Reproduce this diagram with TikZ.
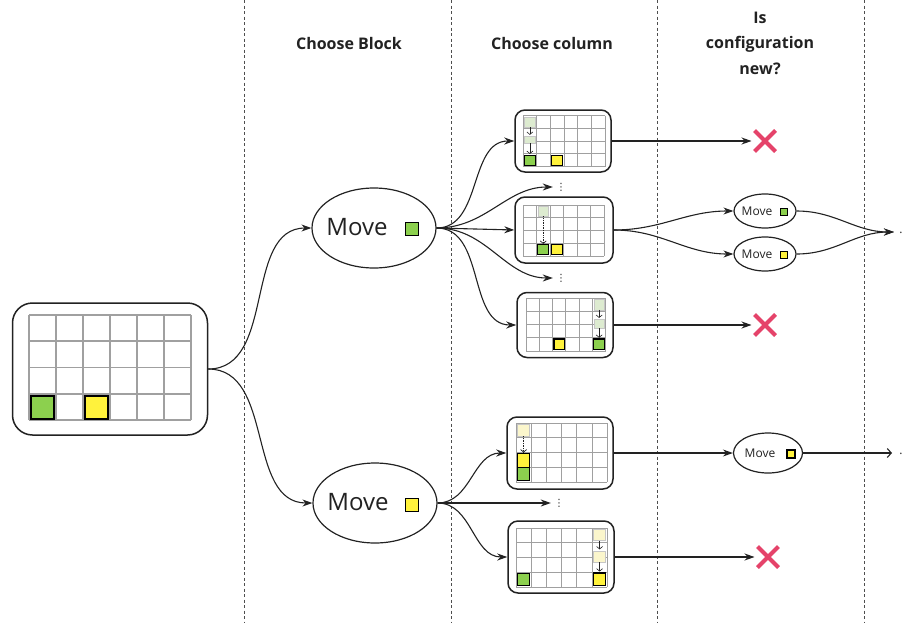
\documentclass[tikz,border=0pt]{standalone}
\usepackage{fontspec}
\setmainfont{Open Sans}
\newfontfamily\dejavu{DejaVu Sans}
\usetikzlibrary{arrows.meta,shapes.geometric,shapes.misc}
\definecolor{gblk}{HTML}{8CD04E}
\definecolor{yblk}{HTML}{FFF23C}
\definecolor{gghost}{HTML}{DDEBD0}
\definecolor{yghost}{HTML}{FBF6CC}
\definecolor{xred}{HTML}{E5436A}
\definecolor{gridc}{HTML}{A0A0A0}
\definecolor{ink}{HTML}{222222}
\tikzset{
  conn/.style={draw=ink, line width=1.1pt, -{Stealth[length=10pt,width=7pt]}},
  openconn/.style={draw=ink, line width=1.1pt, -{Straight Barb[length=4pt,width=9pt]}},
  board/.style={draw=ink, line width=1.5pt, rounded corners=10pt, fill=white, inner sep=0pt},
  gline/.style={draw=gridc, line width=1pt},
  gblock/.style={fill=gblk, draw=black, line width=1.2pt},
  yblock/.style={fill=yblk, draw=black, line width=1.2pt},
  gghostb/.style={fill=gghost, draw=gridc!60, line width=0.6pt},
  yghostb/.style={fill=yghost, draw=gridc!60, line width=0.6pt},
  fallsolid/.style={draw=ink, line width=0.6pt, -{Straight Barb[length=2.5pt,width=6pt]}},
  falldot/.style={draw=ink, line width=0.7pt, densely dotted, -{Straight Barb[length=2.5pt,width=6pt]}},
  bigell/.style={draw=ink, ellipse, line width=1.2pt, fill=white, minimum width=124pt, minimum height=80pt, inner sep=0pt},
  smallell/.style={draw=ink, ellipse, line width=1.2pt, fill=white, inner sep=0pt},
  bigtxt/.style={font=\fontsize{24}{28}\selectfont, text=ink, inner sep=0pt},
  smalltxt/.style={font=\fontsize{12}{14}\selectfont, text=ink, inner sep=0pt},
  sqn/.style={draw=black, line width=1.3pt, inner sep=0pt},
  xmark/.style={cross out, draw=xred, line width=4pt, minimum size=17pt, inner sep=0pt},
  divider/.style={draw=ink!80, line width=0.7pt, dash pattern=on 3pt off 2.5pt},
  header/.style={font=\bfseries\fontsize{16}{25.5}\selectfont, text=ink, align=center, inner sep=0pt},
  dotsn/.style={font=\dejavu\fontsize{10}{12}\selectfont, inner sep=0pt, text=ink},
}
\begin{document}
\begin{tikzpicture}[x=1pt,y=-1pt]
\useasboundingbox (0,0) rectangle (905,622);

% dividers
\foreach \xx in {244,451,657,864} \draw[divider] (\xx,0) -- (\xx,622);

% headers
\node[header] (h1) at (349,43) {Choose Block};
\node[header] (h2) at (552,43) {Choose column};
\node[header] (h3) at (760,43) {Is\\configuration\\new?};

% big board
\node[board, rounded corners=20pt, minimum width=195pt, minimum height=132pt] (bb) at (110,369) {};
\begin{scope}[shift={(29,315)}, x=26.95pt, y=-26.25pt]
  \foreach \i in {0,...,6} \draw[gline, line width=1.6pt] (\i,0) -- (\i,4);
  \foreach \j in {0,...,4} \draw[gline, line width=1.6pt] (0,\j) -- (6,\j);
  \draw[gblock, line width=2pt] (0.08,3.08) rectangle (0.92,3.95);
  \draw[yblock, line width=2pt] (2.08,3.08) rectangle (2.92,3.95);
\end{scope}

% board b1
\node[board, minimum width=96pt, minimum height=62pt] (b1) at (563,141) {};
\begin{scope}[shift={(523,115.7)}, x=13.7pt, y=-12.75pt]
  \foreach \i in {0,...,6} \draw[gline] (\i,0) -- (\i,4);
  \foreach \j in {0,...,4} \draw[gline] (0,\j) -- (6,\j);
  \draw[gghostb] (0.1,0.1) rectangle (0.9,0.9);
  \draw[fallsolid] (0.5,0.9) -- (0.5,1.5);
  \draw[gghostb] (0.1,1.6) rectangle (0.9,2.15);
  \draw[fallsolid] (0.5,2.15) -- (0.5,3.0);
  \draw[gblock] (0.1,3.1) rectangle (0.9,3.9);
  \draw[yblock] (2.1,3.1) rectangle (2.9,3.9);
\end{scope}

% board b2
\node[board, minimum width=98pt, minimum height=66pt] (b2) at (564,230) {};
\begin{scope}[shift={(523,205)}, x=13.5pt, y=-12.75pt]
  \foreach \i in {0,...,6} \draw[gline] (\i,0) -- (\i,4);
  \foreach \j in {0,...,4} \draw[gline] (0,\j) -- (6,\j);
  \draw[gghostb] (1.1,0.1) rectangle (1.9,0.9);
  \draw[falldot] (1.5,0.9) -- (1.5,3.05);
  \draw[gblock] (1.1,3.1) rectangle (1.9,3.9);
  \draw[yblock] (2.1,3.1) rectangle (2.9,3.9);
\end{scope}

% board b3
\node[board, minimum width=96pt, minimum height=65pt] (b3) at (565,325) {};
\begin{scope}[shift={(526,298)}, x=13.3pt, y=-13.25pt]
  \foreach \i in {0,...,6} \draw[gline] (\i,0) -- (\i,4);
  \foreach \j in {0,...,4} \draw[gline] (0,\j) -- (6,\j);
  \draw[gghostb] (5.1,0.1) rectangle (5.9,0.9);
  \draw[fallsolid] (5.5,0.9) -- (5.5,1.5);
  \draw[gghostb] (5.1,1.6) rectangle (5.9,2.3);
  \draw[fallsolid] (5.5,2.3) -- (5.5,3.0);
  \draw[gblock] (5.1,3.1) rectangle (5.9,3.9);
  \draw[yblock] (2.1,3.1) rectangle (2.9,3.9);
\end{scope}

% board b4
\node[board, minimum width=106pt, minimum height=72pt] (b4) at (560,453) {};
\begin{scope}[shift={(516,423)}, x=15.2pt, y=-14.75pt]
  \foreach \i in {0,...,6} \draw[gline] (\i,0) -- (\i,4);
  \foreach \j in {0,...,4} \draw[gline] (0,\j) -- (6,\j);
  \draw[yghostb] (0.1,0.1) rectangle (0.9,0.9);
  \draw[falldot] (0.5,0.9) -- (0.5,2.0);
  \draw[yblock] (0.1,2.05) rectangle (0.9,3.0);
  \draw[gblock] (0.1,3.0) rectangle (0.9,3.92);
\end{scope}

% board b5
\node[board, minimum width=106pt, minimum height=72pt] (b5) at (561,557) {};
\begin{scope}[shift={(516,528)}, x=15.2pt, y=-14.75pt]
  \foreach \i in {0,...,6} \draw[gline] (\i,0) -- (\i,4);
  \foreach \j in {0,...,4} \draw[gline] (0,\j) -- (6,\j);
  \draw[yghostb] (5.1,0.1) rectangle (5.9,0.85);
  \draw[fallsolid] (5.5,0.85) -- (5.5,1.45);
  \draw[yghostb] (5.1,1.6) rectangle (5.9,2.3);
  \draw[fallsolid] (5.5,2.3) -- (5.5,2.95);
  \draw[gblock] (0.1,3.1) rectangle (0.9,3.9);
  \draw[yblock] (5.1,3.05) rectangle (5.9,3.9);
\end{scope}

% big ellipses
\node[bigell] (m1) at (374,228) {};
\node[bigtxt] (m1t) at (357,227) {Move};
\node[sqn, fill=gblk, minimum size=13pt] (m1s) at (412,229) {};
\node[bigell] (m2) at (375,503) {};
\node[bigtxt] (m2t) at (358,502) {Move};
\node[sqn, fill=yblk, minimum size=13pt] (m2s) at (412,505) {};

% small ellipses
\node[smallell, minimum width=62pt, minimum height=34pt] (e1) at (765,211) {};
\node[smalltxt] (e1t) at (757,211) {Move};
\node[sqn, fill=gblk, minimum size=7.5pt, line width=1.1pt] (e1s) at (784,212) {};
\node[smallell, minimum width=62pt, minimum height=34pt] (e2) at (765,254) {};
\node[smalltxt] (e2t) at (757,254) {Move};
\node[sqn, fill=yblk, minimum size=7.5pt, line width=1.1pt] (e2s) at (784,255) {};
\node[smallell, minimum width=69pt, minimum height=40pt] (e3) at (768,453) {};
\node[smalltxt] (e3t) at (760,453) {Move};
\node[sqn, fill=yblk, minimum size=8pt, line width=1.1pt] (e3s) at (791,454) {};

% crosses
\node[xmark] (x1) at (765,141) {};
\node[xmark] (x2) at (765,325) {};
\node[xmark] (x3) at (768,557) {};

% dots
\node[dotsn] (d1) at (561,187) {⋮};
\node[dotsn] (d2) at (561,278) {⋮};
\node[dotsn] (d3) at (559,503) {⋮};
\coordinate (mg) at (894,232);
\coordinate (mg2) at (892,453);
\node[smalltxt] (p1) at (901,233) {.};
\node[smalltxt] (p2) at (901,454) {.};

% connectors
\draw[conn] (bb.east) to[out=0,in=180] (m1.west);
\draw[conn] (bb.east) to[out=0,in=180] (m2.west);

\draw[conn] (m1.east) to[out=0,in=180] (b1.west);
\draw[conn, shorten >=3pt] (m1.east) to[out=0,in=180] (d1.west);
\draw[conn] (m1.east) -- (b2.west);
\draw[conn, shorten >=3pt] (m1.east) to[out=0,in=180] (d2.west);
\draw[conn] (m1.east) to[out=0,in=180] (b3.west);

\draw[conn] (m2.east) to[out=0,in=180] (b4.west);
\draw[conn, shorten >=3pt] (m2.east) to[out=0,in=180] (d3.west);
\draw[conn] (m2.east) to[out=0,in=180] (b5.west);

\draw[conn, shorten >=3pt] (b1.east) -- (x1.west);
\draw[conn, shorten >=3pt] (b3.east) -- (x2.west);
\draw[conn, shorten >=3pt] (b5.east) -- (x3.west);

\draw[conn] (b2.east) to[out=0,in=180] (e1.west);
\draw[conn] (b2.east) to[out=0,in=180] (e2.west);
\draw[conn] (b4.east) -- (e3.west);

\draw[conn] (e1.east) to[out=0,in=180] (mg);
\draw[conn] (e2.east) to[out=0,in=180] (mg);
\draw[openconn] (e3.east) -- (mg2);
\end{tikzpicture}
\end{document}
